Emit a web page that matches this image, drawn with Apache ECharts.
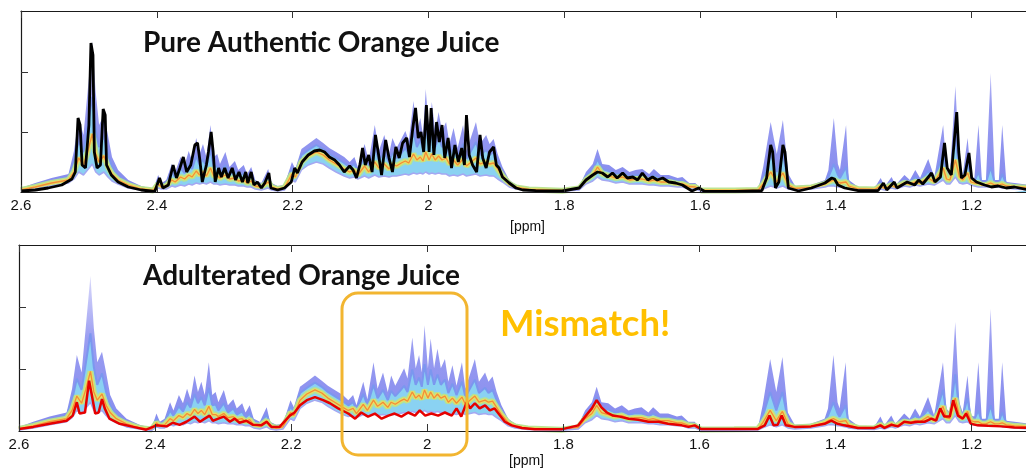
<!DOCTYPE html>
<html><head><meta charset="utf-8">
<script src="https://cdn.jsdelivr.net/npm/echarts@6/dist/echarts.min.js"></script>
<style>html,body{margin:0;padding:0;background:#fff}#c{width:1026px;height:471px}</style>
</head><body><div id="c"></div>
<script>
// ---- data (ppm on x, intensity in arbitrary units on y) ----
const tickValues = [2.6, 2.4, 2.2, 2.0, 1.8, 1.6, 1.4, 1.2];
const yTicks = [60, 120];

// reference distribution of authentic juices (same in both panels)
const bandPpm = [2.600,2.579,2.555,2.530,2.522,2.515,2.508,2.502,2.495,2.490,2.485,2.478,2.472,2.466,2.457,2.442,2.423,2.405,2.398,2.393,2.386,2.378,2.373,2.365,2.359,2.353,2.348,2.342,2.337,2.332,2.327,2.321,2.316,2.311,2.307,2.299,2.293,2.285,2.280,2.272,2.267,2.261,2.255,2.246,2.236,2.231,2.222,2.212,2.201,2.196,2.187,2.177,2.165,2.155,2.146,2.136,2.124,2.116,2.109,2.104,2.094,2.088,2.079,2.073,2.065,2.058,2.053,2.047,2.040,2.034,2.029,2.022,2.017,2.012,2.008,2.004,1.999,1.995,1.990,1.985,1.980,1.974,1.969,1.963,1.957,1.949,1.944,1.930,1.924,1.915,1.910,1.904,1.898,1.891,1.881,1.871,1.852,1.803,1.778,1.768,1.758,1.751,1.744,1.734,1.724,1.714,1.704,1.695,1.685,1.675,1.668,1.658,1.646,1.633,1.626,1.616,1.607,1.598,1.549,1.514,1.507,1.496,1.487,1.478,1.470,1.460,1.436,1.416,1.411,1.403,1.397,1.394,1.385,1.381,1.367,1.343,1.334,1.328,1.318,1.312,1.299,1.291,1.283,1.276,1.264,1.255,1.242,1.237,1.232,1.224,1.218,1.213,1.206,1.201,1.196,1.190,1.185,1.179,1.172,1.166,1.160,1.155,1.149,1.137,1.115];
const bandUpper = [4,9,14,18,41,74,57,100,151,100,67,77,57,35,22,12,6,3,17,9,12,28,20,35,27,41,31,54,38,48,35,67,35,38,28,40,25,31,22,27,18,25,12,9,23,9,6,7,30,23,43,48,54,49,44,40,35,30,35,25,48,31,67,41,57,38,54,44,53,61,51,91,61,74,57,103,61,90,61,80,61,70,48,64,44,67,41,70,48,57,48,53,38,25,12,7,4,2,5.5,20,28,43,28,27,22,25,20,22,23,18,23,17,17,14,15,9,9,2.5,3,3,25,70,38,72,18,6,7,12,22,74,28,22,67,12,5,4,14,5.5,15,7,17,12,22,14,33,15,67,22,18,106,28,18,54,15,14,67,12,12,119,12,12,67,10,9,7];
const bandCyan = [3,7,11,15,30,51,40,65,95,62,45,56,38,25,16,9,4,2,12,7,9,20,15,24,19,28,23,36,27,33,25,42,25,26,20,27,18,22,16,19,13,17,9,7,16,7,4,5,24,19,37,42,47,43,38,34,29,25,28,21,36,25,45,32,40,30,39,34,39,44,38,60,45,52,43,65,45,60,45,55,45,50,37,46,35,48,33,50,37,42,37,40,30,20,10,6,3,1.6,4.5,16,22,33,23,21,18,19,16,17,17,14,17,13,13,11,11,7,7,2,2.2,2.5,14,38,20,38,11,4.5,5.5,10,15,28,17,14,25,8,4,3,9,4.5,10,6,12,10,15,11,21,12,40,17,15,55,20,15,32,12,11,20,9,9,25,9,9,18,8,7,5];
const bandMedian = [2,5,9,12,20,34,27,40,58,38,30,36,25,18,12,7,3,1.5,8,5,6,12,10,15,13,17,15,21,17,20,16,24,16,16,14,17,13,14,11,12,9,11,6,5,10,5,3,4,18,15,30,36,40,37,32,28,23,20,22,17,26,20,30,24,28,23,28,26,29,31,29,38,32,35,31,40,32,38,32,36,32,34,28,32,27,33,26,34,28,30,28,29,23,16,8,4.5,2.5,1.3,3.5,12,17,25,18,16,14,15,12,13,13,11,12,10,10,8,8,5.5,5,1.5,1.6,2,8,20,10,19,7,3.5,4.5,8,10,12,10,9,10,6,3,2.5,6,3.5,7,4.5,9,8,10,9,14,10,24,13,12,32,15,12,19,10,9,9,7,7,9,7,7,8,6,5,4];
const bandLower = [1,3,6,9,13,20,17,22,28,20,17,20,15,11,8,4,2,0.5,4,3,3,6,5,7,6,8,7,9,8,9,8,10,8,8,7,8,7,7,6,6,5,5,3,2,4,2,1,2,12,10,22,27,30,28,24,20,16,14,15,13,16,14,17,15,16,15,16,16,17,18,17,19,18,19,18,20,18,19,18,19,18,18,16,17,16,18,16,18,16,17,16,16,13,10,5,3,1.5,0.8,2,8,11,15,12,11,9,10,8,8,8,7,7,6,6,5,5,3,3,0.8,0.8,1,3,6,4,6,3,2,3,5,6,6,5,5,4,3,2,1.5,3,2,4,3,6,5,7,6,8,7,12,8,8,15,9,8,9,7,6,5,5,5,5,5,5,4,4,3,2];

// pure authentic sample (black trace, top panel)
const pureSample = [[2.600,1],[2.579,2],[2.560,4],[2.540,7],[2.525,13],[2.520,20],[2.516,74],[2.513,67],[2.510,27],[2.505,24],[2.500,67],[2.497,149],[2.494,137],[2.492,40],[2.488,24],[2.483,27],[2.479,83],[2.476,77],[2.474,27],[2.467,17],[2.457,10],[2.442,5],[2.423,2],[2.403,0.5],[2.396,14],[2.391,4],[2.383,7],[2.376,27],[2.371,14],[2.366,24],[2.361,35],[2.356,20],[2.350,27],[2.344,47],[2.340,49],[2.337,34],[2.333,10],[2.327,27],[2.324,40],[2.320,60],[2.317,40],[2.314,10],[2.309,24],[2.305,15],[2.300,24],[2.295,14],[2.289,24],[2.284,12],[2.279,20],[2.274,10],[2.269,20],[2.266,9],[2.261,20],[2.257,7],[2.252,10],[2.246,4],[2.241,9],[2.235,19],[2.232,4],[2.222,2],[2.212,4],[2.202,10],[2.197,24],[2.193,19],[2.186,30],[2.177,37],[2.168,41],[2.160,42],[2.153,40],[2.146,35],[2.138,32],[2.131,27],[2.124,20],[2.116,26],[2.111,22],[2.106,14],[2.101,27],[2.097,44],[2.093,27],[2.088,37],[2.083,20],[2.078,57],[2.074,40],[2.069,17],[2.063,52],[2.058,34],[2.053,20],[2.048,45],[2.043,34],[2.038,49],[2.032,54],[2.028,35],[2.023,64],[2.019,84],[2.015,54],[2.011,60],[2.007,40],[2.003,87],[1.999,40],[1.996,84],[1.992,37],[1.988,70],[1.984,50],[1.980,67],[1.976,34],[1.971,54],[1.966,24],[1.961,47],[1.956,30],[1.951,44],[1.947,27],[1.944,77],[1.940,37],[1.935,27],[1.929,20],[1.924,57],[1.920,34],[1.915,24],[1.910,40],[1.904,45],[1.900,27],[1.896,24],[1.891,15],[1.886,12],[1.881,9],[1.871,4],[1.861,2],[1.842,1.3],[1.803,1],[1.778,4],[1.768,12],[1.758,17],[1.751,20],[1.744,19],[1.736,15],[1.729,19],[1.722,14],[1.714,19],[1.707,14],[1.699,15],[1.692,12],[1.685,19],[1.677,12],[1.670,15],[1.663,12],[1.655,14],[1.646,10],[1.636,9],[1.626,7],[1.619,4],[1.612,1],[1.602,4],[1.593,0.5],[1.549,0.5],[1.509,1.3],[1.502,14],[1.496,47],[1.493,40],[1.489,4],[1.484,10],[1.478,47],[1.475,40],[1.470,4],[1.455,1],[1.436,4],[1.416,9],[1.406,14],[1.402,13],[1.397,7],[1.387,4],[1.367,1.3],[1.338,1.3],[1.330,9],[1.325,2],[1.314,10],[1.310,4],[1.295,10],[1.284,7],[1.278,12],[1.272,8],[1.259,19],[1.254,10],[1.246,15],[1.240,49],[1.236,24],[1.230,17],[1.222,80],[1.219,40],[1.215,14],[1.210,17],[1.204,39],[1.200,14],[1.193,10],[1.181,7],[1.171,5],[1.161,6],[1.149,4],[1.137,5],[1.115,2]];

// adulterated sample (red trace, bottom panel)
const adulteratedSample = [[2.600,2],[2.579,4],[2.555,7],[2.530,10],[2.521,15],[2.515,28],[2.511,17],[2.503,18],[2.497,49],[2.493,35],[2.488,17],[2.483,18],[2.478,31],[2.474,22],[2.467,12],[2.452,7],[2.432,4],[2.413,1.3],[2.398,5.5],[2.383,4.5],[2.374,8],[2.364,6],[2.354,9],[2.342,14],[2.334,9],[2.327,12],[2.320,15],[2.315,10],[2.307,12],[2.299,14],[2.290,9],[2.283,12],[2.276,8],[2.266,10],[2.256,6],[2.244,5.5],[2.236,9],[2.229,4],[2.217,4],[2.202,15],[2.195,18],[2.187,25],[2.177,30],[2.165,33],[2.153,30],[2.143,27],[2.131,22],[2.119,18],[2.116,17],[2.106,12],[2.097,18],[2.087,14],[2.077,17],[2.067,12],[2.057,15],[2.048,17],[2.038,14],[2.028,18],[2.018,15],[2.011,20],[2.003,15],[1.994,17],[1.984,15],[1.974,18],[1.964,15],[1.957,22],[1.950,14],[1.942,28],[1.937,22],[1.930,27],[1.923,22],[1.915,25],[1.908,20],[1.901,22],[1.893,15],[1.886,9],[1.876,5.5],[1.861,3],[1.842,1.6],[1.803,1.6],[1.778,5.5],[1.768,14],[1.758,22],[1.751,30],[1.744,23],[1.736,18],[1.727,15],[1.717,14],[1.704,12],[1.690,11],[1.675,9],[1.660,9],[1.646,7],[1.626,5.5],[1.616,4],[1.607,5.5],[1.598,2],[1.549,2],[1.514,2],[1.504,5.5],[1.497,15],[1.491,5.5],[1.485,6],[1.479,15],[1.473,5.5],[1.460,4],[1.436,4.5],[1.416,7],[1.406,10],[1.397,7],[1.387,5.5],[1.367,3],[1.343,3],[1.334,5.5],[1.328,3],[1.318,6],[1.308,4.5],[1.299,9],[1.289,8],[1.279,9],[1.269,9],[1.259,12],[1.252,10],[1.246,22],[1.240,14],[1.232,14],[1.227,30],[1.220,15],[1.213,12],[1.208,17],[1.201,7],[1.191,5.5],[1.176,5],[1.156,4.5],[1.137,3.5],[1.115,3]];

// ---- chart ----
const zip = (xs, ys) => xs.map((x, i) => [x, ys[i]]);
const grids = [
  {left: 21, top: 11, width: 1006, height: 181},
  {left: 19, top: 245, width: 1007, height: 186}
];
const FONT = 'Liberation Sans, Arial, sans-serif';

function xAxes(gi, nameGap) {
  const base = {
    type: 'value', gridIndex: gi, min: 1.12, max: 2.6, inverse: true, z: 10,
    splitLine: {show: false},
    axisLine: {show: true, onZero: false, lineStyle: {color: '#1a1a1a', width: 1.2}},
  };
  return [
    Object.assign({}, base, {
      position: 'bottom',
      axisTick: {show: true, inside: true, length: 7, customValues: tickValues, lineStyle: {color: '#333'}},
      axisLabel: {show: true, customValues: tickValues, margin: 6, fontSize: 15, color: '#111', fontFamily: FONT,
        formatter: v => String(+Number(v).toFixed(1))},
      name: '[ppm]', nameLocation: 'middle', nameGap: nameGap,
      nameTextStyle: {fontSize: 14, color: '#111', fontFamily: FONT, padding: [0, 0, 0, 8]}
    }),
    Object.assign({}, base, {
      position: 'top',
      axisTick: {show: true, inside: true, length: 7, customValues: tickValues, lineStyle: {color: '#333'}},
      axisLabel: {show: false}
    })
  ];
}
function yAxis(gi) {
  return {
    type: 'value', gridIndex: gi, min: 0, max: 181, z: 10,
    splitLine: {show: false},
    axisLine: {show: true, lineStyle: {color: '#1a1a1a', width: 1.2}},
    axisTick: {show: true, inside: true, length: 7, customValues: yTicks, lineStyle: {color: '#333'}},
    axisLabel: {show: false}
  };
}

function bandSeries(gi) {
  const xi = gi * 2, yi = gi;
  const g = grids[gi];
  const common = {type: 'line', xAxisIndex: xi, yAxisIndex: yi, symbol: 'none', silent: true, animation: false};
  const upperFill = {
    type: 'linear', x: 0, y: g.top, x2: 0, y2: g.top + g.height, global: true,
    colorStops: [
      {offset: 0, color: 'rgba(175,175,248,0.08)'},
      {offset: 0.22, color: 'rgba(150,150,242,0.45)'},
      {offset: 0.5, color: 'rgba(132,136,238,0.82)'},
      {offset: 1, color: 'rgba(122,128,236,0.92)'}
    ]
  };
  return [
    Object.assign({}, common, {z: 2, data: zip(bandPpm, bandUpper),
      lineStyle: {width: 0}, areaStyle: {color: upperFill, opacity: 1}}),
    Object.assign({}, common, {z: 3, data: zip(bandPpm, bandCyan),
      lineStyle: {width: 2, color: '#7b97ef'}, areaStyle: {color: '#8ad2f2', opacity: 1}}),
    Object.assign({}, common, {z: 4, data: zip(bandPpm, bandMedian),
      lineStyle: {width: 6, color: 'rgba(184,228,140,0.95)'}}),
    Object.assign({}, common, {z: 4, data: zip(bandPpm, bandMedian),
      lineStyle: {width: 3, color: '#f3dc5e'}}),
    Object.assign({}, common, {z: 4, data: zip(bandPpm, bandMedian),
      lineStyle: {width: 1.3, color: '#ef8e3a'}}),
    Object.assign({}, common, {z: 5, data: zip(bandPpm, bandLower),
      lineStyle: {width: 1.5, color: '#a4a8f2'}, areaStyle: {color: '#ffffff', opacity: 1}})
  ];
}

const chart = echarts.init(document.getElementById('c'), null, {renderer: 'canvas'});
chart.setOption({
  animation: false,
  backgroundColor: '#ffffff',
  grid: grids,
  xAxis: [...xAxes(0, 28), ...xAxes(1, 23)],
  yAxis: [yAxis(0), yAxis(1)],
  series: [
    ...bandSeries(0),
    {type: 'line', xAxisIndex: 0, yAxisIndex: 0, symbol: 'none', silent: true, z: 6,
      data: pureSample, lineStyle: {width: 2.8, color: '#000000'}},
    ...bandSeries(1),
    {type: 'line', xAxisIndex: 2, yAxisIndex: 1, symbol: 'none', silent: true, z: 6,
      data: adulteratedSample, lineStyle: {width: 2.5, color: '#e60000'}}
  ],
  graphic: [
    {type: 'text', left: 143, top: 29, z: 100, silent: true,
      style: {text: 'Pure Authentic Orange Juice', fontFamily: 'Lato, Open Sans, sans-serif', fontWeight: 'bold', fontSize: 28, fill: '#111'}},
    {type: 'text', left: 143, top: 262, z: 100, silent: true,
      style: {text: 'Adulterated Orange Juice', fontFamily: 'Lato, Open Sans, sans-serif', fontWeight: 'bold', fontSize: 28, fill: '#111'}},
    {type: 'text', left: 500, top: 306, z: 100, silent: true,
      style: {text: 'Mismatch!', fontFamily: 'Lato, Open Sans, sans-serif', fontWeight: 'bold', fontSize: 36.5, fill: '#FFC000'}},
    {type: 'rect', z: 100, silent: true,
      shape: {x: 342, y: 293, width: 125, height: 162, r: 16},
      style: {fill: 'none', stroke: '#F2B530', lineWidth: 3}}
  ]
});
</script></body></html>
